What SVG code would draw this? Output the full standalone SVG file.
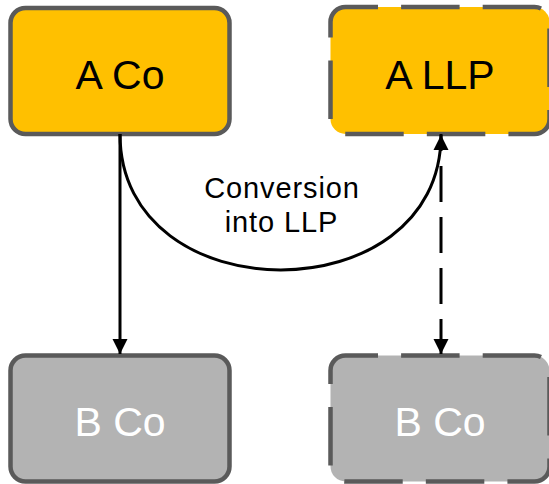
<svg xmlns="http://www.w3.org/2000/svg" width="549" height="484" viewBox="0 0 549 484">
<style>
.box{stroke:#5A5A5A;stroke-width:4.5}
.a{fill:#FFC000}
.b{fill:#B3B3B3}
.dash{stroke-dasharray:58.5 23.1;stroke-dashoffset:26}
.lbl{font-family:"Liberation Sans",Arial,sans-serif;font-size:41px;text-anchor:middle}
.dark{fill:#000}
.light{fill:#fff}
.conn{fill:none;stroke:#000;stroke-width:3}
.note{font-family:"Liberation Sans",Arial,sans-serif;font-size:29px;letter-spacing:0.9px;text-anchor:middle;fill:#000}
</style>
<defs>
<marker id="arrow" markerUnits="userSpaceOnUse" markerWidth="16" markerHeight="16" viewBox="0 0 16 16" refX="15" refY="8" orient="auto">
<path d="M0,0.5 L15,8 L0,15.5 Z" fill="#000"/>
</marker>
</defs>
<rect width="549" height="484" fill="#fff"/>
<g id="node-a-co">
<rect class="box a" x="10.5" y="8" width="219" height="126" rx="15" ry="15"/>
<text class="lbl dark" x="120" y="89">A Co</text>
</g>
<g id="node-a-llp">
<rect class="box a dash" x="330.5" y="7" width="219" height="127" rx="15" ry="15"/>
<text class="lbl dark" x="440" y="89">A LLP</text>
</g>
<g id="node-b-co-left">
<rect class="box b" x="10.5" y="355.5" width="219" height="126" rx="15" ry="15"/>
<text class="lbl light" x="120" y="436">B Co</text>
</g>
<g id="node-b-co-right">
<rect class="box b dash" x="330.5" y="355.5" width="219" height="126" rx="15" ry="15"/>
<text class="lbl light" x="440" y="436">B Co</text>
</g>
<g id="connectors">
<line class="conn" x1="120" y1="134" x2="120" y2="354" marker-end="url(#arrow)"/>
<line class="conn" x1="441" y1="134" x2="441" y2="354" stroke-dasharray="36 15" stroke-dashoffset="19" marker-end="url(#arrow)"/>
<path class="conn" d="M120,134 C120,315 441,315 441,135" marker-end="url(#arrow)"/>
<text class="note" x="282" y="198">Conversion</text>
<text class="note" x="281.5" y="231.5">into LLP</text>
</g>
</svg>
